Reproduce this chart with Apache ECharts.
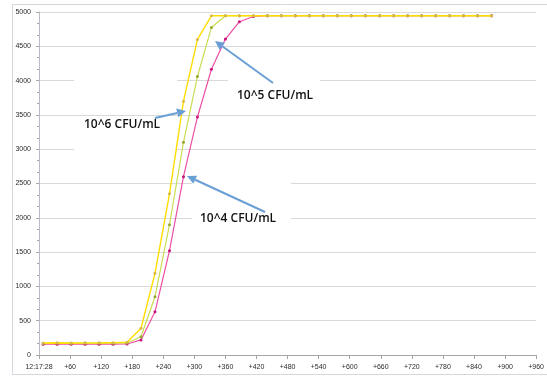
<!DOCTYPE html>
<html>
<head>
<meta charset="utf-8">
<script src="https://cdn.jsdelivr.net/npm/echarts@6/dist/echarts.min.js"></script>
<style>
  html, body { margin: 0; padding: 0; background: #ffffff; }
  #chart { width: 547px; height: 377px; }
</style>
</head>
<body>
<div id="chart"></div>
<script>
// Elapsed time of each reading, seconds after 12:17:28
const times = [8, 35, 62, 89, 116, 143, 170, 197, 224, 252, 279, 306, 333, 360, 387, 414, 441,
  468, 495, 522, 549, 576, 603, 630, 658, 685, 712, 739, 766, 793, 820, 847, 874];

// Signal for each inoculum
const cfu6 = [175, 178, 176, 177, 178, 180, 186, 390, 1190, 2350, 3700, 4600,
  4945, 4945, 4945, 4945, 4945, 4945, 4945, 4945, 4945, 4945, 4945, 4945, 4945, 4945, 4945,
  4945, 4945, 4945, 4945, 4945, 4945];
const cfu5 = [168, 170, 169, 170, 171, 172, 175, 265, 850, 1900, 3100, 4060, 4775,
  4945, 4945, 4945, 4945, 4945, 4945, 4945, 4945, 4945, 4945, 4945, 4945, 4945, 4945,
  4945, 4945, 4945, 4945, 4945, 4945];
const cfu4 = [158, 157, 158, 157, 158, 158, 160, 220, 630, 1520, 2600, 3470, 4165, 4606, 4858, 4935,
  4945, 4945, 4945, 4945, 4945, 4945, 4945, 4945, 4945, 4945, 4945,
  4945, 4945, 4945, 4945, 4945, 4945];

const startLabel = '12:17:28';
const seriesNames = ['10^4 CFU/mL', '10^5 CFU/mL', '10^6 CFU/mL'];

const pairs = arr => times.map((t, i) => [t, arr[i]]);

const chart = echarts.init(document.getElementById('chart'), null, { renderer: 'canvas' });

const axisFont = { fontFamily: 'Liberation Sans', fontSize: 7, color: '#2b2b2b' };
const noteFont = 'Open Sans';
const arrowColor = '#6a9fd6';

// arrow from (x1,y1) to tip (x2,y2)
function arrow(x1, y1, x2, y2) {
  const dx = x2 - x1, dy = y2 - y1;
  const len = Math.sqrt(dx * dx + dy * dy);
  const ux = dx / len, uy = dy / len;
  const headL = 9, headW = 4.5;
  const bx = x2 - ux * headL, by = y2 - uy * headL;
  return [
    { type: 'line', z: 10, shape: { x1, y1, x2: bx, y2: by },
      style: { stroke: arrowColor, lineWidth: 2 } },
    { type: 'polygon', z: 10,
      shape: { points: [[x2, y2], [bx - uy * headW, by + ux * headW], [bx + uy * headW, by - ux * headW]] },
      style: { fill: arrowColor } }
  ];
}

// white text-box backdrops behind the annotations
const backdrops = [
  [74, 76, 103, 8], [74, 146, 102, 8],
  [228, 72, 92, 38],
  [192, 178, 99, 46]
].map(([x, y, w, h]) => ({ type: 'rect', z: 1, shape: { x, y, width: w, height: h }, style: { fill: '#ffffff' } }));

const notes = [
  { text: seriesNames[2], x: 84, y: 125 },
  { text: seriesNames[1], x: 237, y: 96 },
  { text: seriesNames[0], x: 200, y: 219 }
].map(n => ({
  type: 'text', z: 11, x: n.x, y: n.y,
  style: { text: n.text, font: '600 12px "' + noteFont + '"', fill: '#111111', verticalAlign: 'middle' }
}));

chart.setOption({
  animation: false,
  backgroundColor: '#ffffff',
  grid: { left: 39, right: 6, top: 12, bottom: 22 },
  xAxis: {
    type: 'value', min: 0, max: 960, interval: 60,
    axisLine: { lineStyle: { color: '#a6a6a6', width: 1 } },
    axisTick: { show: true, length: 4, lineStyle: { color: '#a6a6a6' } },
    splitLine: { show: false },
    axisLabel: Object.assign({}, axisFont, {
      margin: 9,
      formatter: v => (v === 0 ? startLabel : '+' + v)
    })
  },
  yAxis: {
    type: 'value', min: 0, max: 5000, interval: 500,
    axisLine: { show: true, lineStyle: { color: '#b8bcc4', width: 1 } },
    axisTick: { show: true, length: 3, lineStyle: { color: '#a6a6a6' } },
    minorTick: { show: true, splitNumber: 3, length: 2, lineStyle: { color: '#a6a6a6' } },
    splitLine: { lineStyle: { color: '#d9d9d9', width: 1 } },
    axisLabel: Object.assign({}, axisFont, { margin: 8, formatter: v => String(v) })
  },
  series: [
    { name: seriesNames[0], type: 'line', data: pairs(cfu4), z: 2,
      symbol: 'circle', symbolSize: 3,
      lineStyle: { color: '#ec4fa4', width: 1.2 },
      itemStyle: { color: '#c8107a' } },
    { name: seriesNames[1], type: 'line', data: pairs(cfu5), z: 3,
      symbol: 'circle', symbolSize: 3,
      lineStyle: { color: '#cbdc52', width: 1.2 },
      itemStyle: { color: '#93a82c' } },
    { name: seriesNames[2], type: 'line', data: pairs(cfu6), z: 4,
      symbol: 'circle', symbolSize: 3,
      lineStyle: { color: '#ffdd00', width: 1.4 },
      itemStyle: { color: '#d9b84a' } }
  ],
  graphic: [
    { type: 'rect', z: 0, silent: true, shape: { x: 12.5, y: 4.5, width: 540, height: 370 },
      style: { fill: 'none', stroke: '#d4d8de', lineWidth: 1 } }
  ].concat(backdrops, notes,
    arrow(155, 118, 186, 111),
    arrow(273, 83, 215, 41),
    arrow(265, 212, 187, 176))
});
</script>
</body>
</html>
